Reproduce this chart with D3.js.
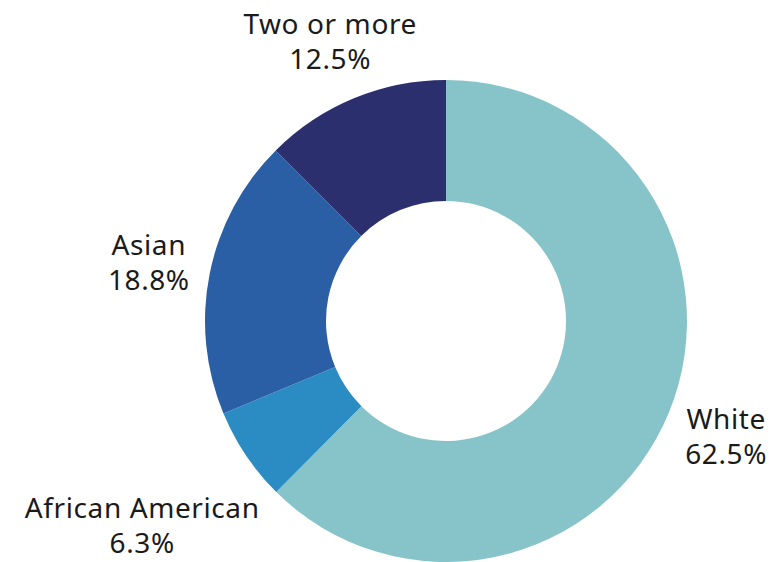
<!DOCTYPE html>
<html>
<head>
<meta charset="utf-8">
<script src="https://cdn.jsdelivr.net/npm/d3@7"></script>
<style>
  body { margin: 0; background: #fff; }
  text { font-family: "Noto Sans", sans-serif; font-size: 28px; letter-spacing: 0.6px; fill: #1a1a1a; }
</style>
</head>
<body>
<svg width="777" height="562"></svg>
<script>
var categories = ["White", "African American", "Asian", "Two or more"];
var values = [62.5, 6.3, 18.8, 12.5];
var colors = ["#87c4ca", "#2b8cc4", "#2a5fa5", "#2b2f6e"];

var data = [];
for (var i = 0; i < categories.length; i++) {
  data.push({ name: categories[i], value: values[i], color: colors[i] });
}

var svg = d3.select("svg"),
    cx = 446,
    cy = 321,
    radius = 241;

var g = svg.append("g")
  .attr("transform", "translate(" + cx + "," + cy + ")");

var pie = d3.pie().sort(null).value(function(d) { return d.value; });

var path = d3.arc()
  .outerRadius(radius).innerRadius(120);

// labels sit outside the ring; tiny slices get pushed a bit further out
var label = d3.arc().outerRadius(303).innerRadius(303);
var labelFar = d3.arc().outerRadius(366).innerRadius(366);

var arc = g.selectAll(".arc")
  .data(pie(data))
  .enter()
  .append("g")
  .attr("class", "arc");

arc.append("path")
  .attr("d", path)
  .attr("fill", function(d) { return d.data.color; });

var t = arc.append("text")
  .attr("text-anchor", "middle")
  .attr("transform", function(d) {
    var a = d.data.value < 10 ? labelFar : label;
    return "translate(" + a.centroid(d) + ")";
  });

t.append("tspan").attr("x", 0).attr("y", -7).text(function(d) { return d.data.name; });
t.append("tspan").attr("x", 0).attr("y", 28).text(function(d) { return d.data.value.toFixed(1) + "%"; });
</script>
</body>
</html>
